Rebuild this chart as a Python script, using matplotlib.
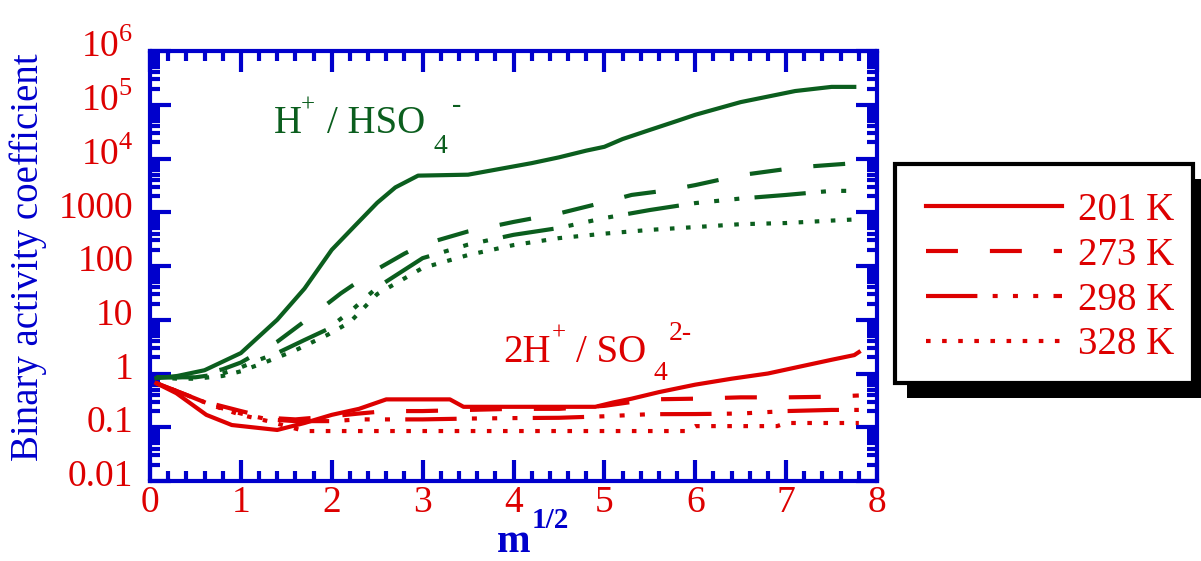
import numpy as np
import matplotlib
matplotlib.use("Agg")
import matplotlib.pyplot as plt
from matplotlib.patches import Rectangle
from matplotlib.ticker import MultipleLocator, LogLocator, NullFormatter, FixedLocator
from matplotlib.transforms import ScaledTranslation

plt.rcParams['font.family'] = ['Liberation Serif', 'DejaVu Serif']
plt.rcParams['mathtext.fontset'] = 'custom'
plt.rcParams['mathtext.rm'] = 'Liberation Serif'
plt.rcParams['mathtext.bf'] = 'Liberation Serif:bold'
plt.rcParams['lines.scale_dashes'] = False

RED = '#dd0000'
GREEN = '#0b5e1e'
BLUE = '#0000cc'
W, H = 1201, 561

# H+ / HSO4- (green)
g201_x = [0.07, 0.3, 0.6, 1.0, 1.4, 1.7, 2.0, 2.25, 2.5, 2.7, 2.95, 3.5, 3.85, 4.2, 4.5, 4.8, 5.0, 5.2, 5.5, 5.8, 6.0, 6.5, 7.1, 7.5, 7.75]
g201_y = [0.82, 0.9, 1.15, 2.4, 10, 38, 200, 550, 1500, 2900, 4800, 5000, 6400, 8200, 10500, 14000, 16500, 23000, 34000, 50000, 65000, 112000, 180000, 215000, 215000]

g273_x = [0.07, 0.3, 0.5, 0.8, 1.0, 1.2, 1.4, 1.75, 2.1, 2.45, 2.8, 3.0, 3.5, 4.0, 4.5, 4.96, 5.3, 5.7, 6.0, 6.5, 7.15, 7.8]
g273_y = [0.85, 0.85, 0.9, 1.2, 1.6, 2.5, 3.9, 10.8, 31, 78, 170, 250, 440, 660, 950, 1480, 2100, 2570, 3200, 4900, 6900, 8300]

g298_x = [0.07, 0.3, 0.5, 0.8, 1.0, 1.2, 1.4, 1.7, 1.94, 2.2, 2.5, 3.0, 3.5, 4.0, 4.5, 5.0, 5.5, 6.0, 6.5, 7.0, 7.5, 7.8]
g298_y = [0.85, 0.85, 0.85, 1.0, 1.3, 1.8, 2.4, 4.2, 6.5, 14, 40, 140, 250, 380, 510, 780, 1100, 1480, 1800, 2100, 2500, 2500]

g328_x = [0.07, 0.3, 0.5, 0.8, 1.0, 1.3, 1.6, 1.95, 2.2, 2.5, 3.0, 3.5, 4.0, 4.5, 5.0, 5.5, 6.0, 6.5, 7.0, 7.5, 7.8]
g328_y = [0.85, 0.8, 0.8, 0.9, 1.1, 1.7, 2.7, 5.2, 9, 30, 92, 160, 245, 330, 400, 470, 530, 600, 630, 700, 740]

# 2H+ / SO4 2- (red)
r201_x = [0.07, 0.29, 0.62, 0.9, 1.4, 1.7, 2.0, 2.3, 2.6, 3.3, 3.45, 4.9, 5.1, 5.3, 5.6, 6.0, 6.4, 6.8, 7.2, 7.5, 7.75, 7.8]
r201_y = [0.66, 0.43, 0.17, 0.11, 0.089, 0.12, 0.17, 0.22, 0.33, 0.33, 0.24, 0.24, 0.29, 0.34, 0.45, 0.62, 0.8, 1.0, 1.4, 1.8, 2.2, 2.5]

r273_x = [0.07, 0.4, 0.7, 1.0, 1.3, 1.6, 2.0, 2.3, 2.6, 3.0, 3.5, 4.0, 4.5, 5.0, 5.5, 6.0, 6.5, 7.0, 7.5, 7.8]
r273_y = [0.66, 0.4, 0.27, 0.2, 0.15, 0.14, 0.16, 0.18, 0.2, 0.2, 0.21, 0.22, 0.22, 0.25, 0.33, 0.34, 0.36, 0.36, 0.37, 0.39]

r298_x = [0.07, 0.4, 0.7, 1.0, 1.3, 1.6, 2.0, 2.3, 2.6, 3.0, 3.5, 4.0, 4.5, 5.0, 5.5, 6.0, 6.5, 7.0, 7.5, 7.8]
r298_y = [0.66, 0.4, 0.25, 0.18, 0.14, 0.13, 0.13, 0.14, 0.14, 0.14, 0.145, 0.148, 0.15, 0.16, 0.175, 0.176, 0.18, 0.2, 0.21, 0.21]

r328_x = [0.07, 0.4, 0.7, 1.0, 1.3, 1.7, 2.0, 3.0, 4.0, 5.0, 5.9, 6.0, 6.9, 7.0, 7.8]
r328_y = [0.66, 0.4, 0.25, 0.17, 0.13, 0.085, 0.085, 0.085, 0.085, 0.085, 0.085, 0.105, 0.105, 0.12, 0.12]

temps = ['201 K', '273 K', '298 K', '328 K']
styles = ['-', (0, (23, 23)), (0, (37, 11, 3.6, 11, 3.6, 11, 3.6, 11)), (0, (3.3, 8.3))]

ytick_vals = [0.01, 0.1, 1, 10, 100, 1000, 1e4, 1e5, 1e6]
ytick_labels = ['0.01', '0.1', '1', '10', '100', '1000', r'$10^{4}$', r'$10^{5}$', r'$10^{6}$']

fig = plt.figure(figsize=(W / 100, H / 100), dpi=100)
ax = fig.add_axes([150 / W, 1 - 481 / H, 727 / W, 430 / H])

green = [(g201_x, g201_y), (g273_x, g273_y), (g298_x, g298_y), (g328_x, g328_y)]
red = [(r201_x, r201_y), (r273_x, r273_y), (r298_x, r298_y), (r328_x, r328_y)]
handles = []
for (x, y), ls in zip(green, styles):
    ax.plot(x, y, color=GREEN, lw=3, ls=ls)
for (x, y), ls, t in zip(red, styles, temps):
    ln, = ax.plot(x, y, color=RED, lw=3, ls=ls, label=t)
    handles.append(ln)

ax.set_yscale('log')
ax.set_xlim(0, 8)
ax.set_ylim(0.01, 1e6)
ax.xaxis.set_major_locator(MultipleLocator(1))
ax.xaxis.set_minor_locator(MultipleLocator(0.2))
ax.yaxis.set_major_locator(FixedLocator(ytick_vals))
ax.yaxis.set_minor_locator(LogLocator(base=10, subs=np.arange(2, 10), numticks=20))
ax.yaxis.set_minor_formatter(NullFormatter())
ax.set_yticks(ytick_vals, ytick_labels)

for s in ax.spines.values():
    s.set_color(BLUE)
    s.set_linewidth(3)
ax.tick_params(which='both', direction='in', top=True, right=True, color=BLUE, width=3)
ax.tick_params(which='major', length=15)
ax.tick_params(which='minor', length=7.5)
ax.tick_params(axis='both', labelcolor=RED, labelsize=27)
ax.tick_params(axis='y', pad=12)
ax.tick_params(axis='x', pad=3)

# y tick labels sit a bit above their ticks in the original
for lab in ax.yaxis.get_majorticklabels():
    lab.set_transform(lab.get_transform() + ScaledTranslation(0, 8 / 100, fig.dpi_scale_trans))


def ftext(px, py, s, **kw):
    return fig.text(px / W, 1 - py / H, s, **kw)


ftext(28, 257, 'Binary activity coefficient', rotation=90, ha='center', va='center',
      color=BLUE, fontsize=28)
ftext(497, 552, 'm', color=BLUE, fontsize=29, fontweight='bold', va='baseline')
ftext(532, 528, '1/2', color=BLUE, fontsize=21, fontweight='bold', va='baseline')

# species labels
ftext(274, 133, 'H', color=GREEN, fontsize=28, va='baseline')
ftext(301, 112, '+', color=GREEN, fontsize=18, va='baseline')
ftext(327, 133, '/ HSO', color=GREEN, fontsize=28, va='baseline')
ftext(433, 153, '4', color=GREEN, fontsize=20, va='baseline')
ftext(452, 112, '-', color=GREEN, fontsize=20, va='baseline')

ftext(503, 362, '2H', color=RED, fontsize=28, va='baseline')
ftext(552, 340, '+', color=RED, fontsize=18, va='baseline')
ftext(576, 362, '/ SO', color=RED, fontsize=28, va='baseline')
ftext(653, 380, '4', color=RED, fontsize=20, va='baseline')
ftext(669, 340, '2-', color=RED, fontsize=20, va='baseline')

# legend box with shadow
fig.add_artist(Rectangle((907 / W, 1 - 398 / H), 298 / W, 219 / H, transform=fig.transFigure,
                         facecolor='black', edgecolor='none'))
fig.add_artist(Rectangle((895 / W, 1 - 383 / H), 298 / W, 219 / H, transform=fig.transFigure,
                         facecolor='white', edgecolor='black', lw=3))
fig.legend(handles=handles, labels=temps, loc='upper left', bbox_to_anchor=(926 / W, 1 - 192 / H),
           frameon=False, fontsize=28, labelcolor=RED, handlelength=3.5, handletextpad=0.4,
           labelspacing=0.2, borderpad=0, borderaxespad=0)

fig.savefig('out.png', dpi=100)
